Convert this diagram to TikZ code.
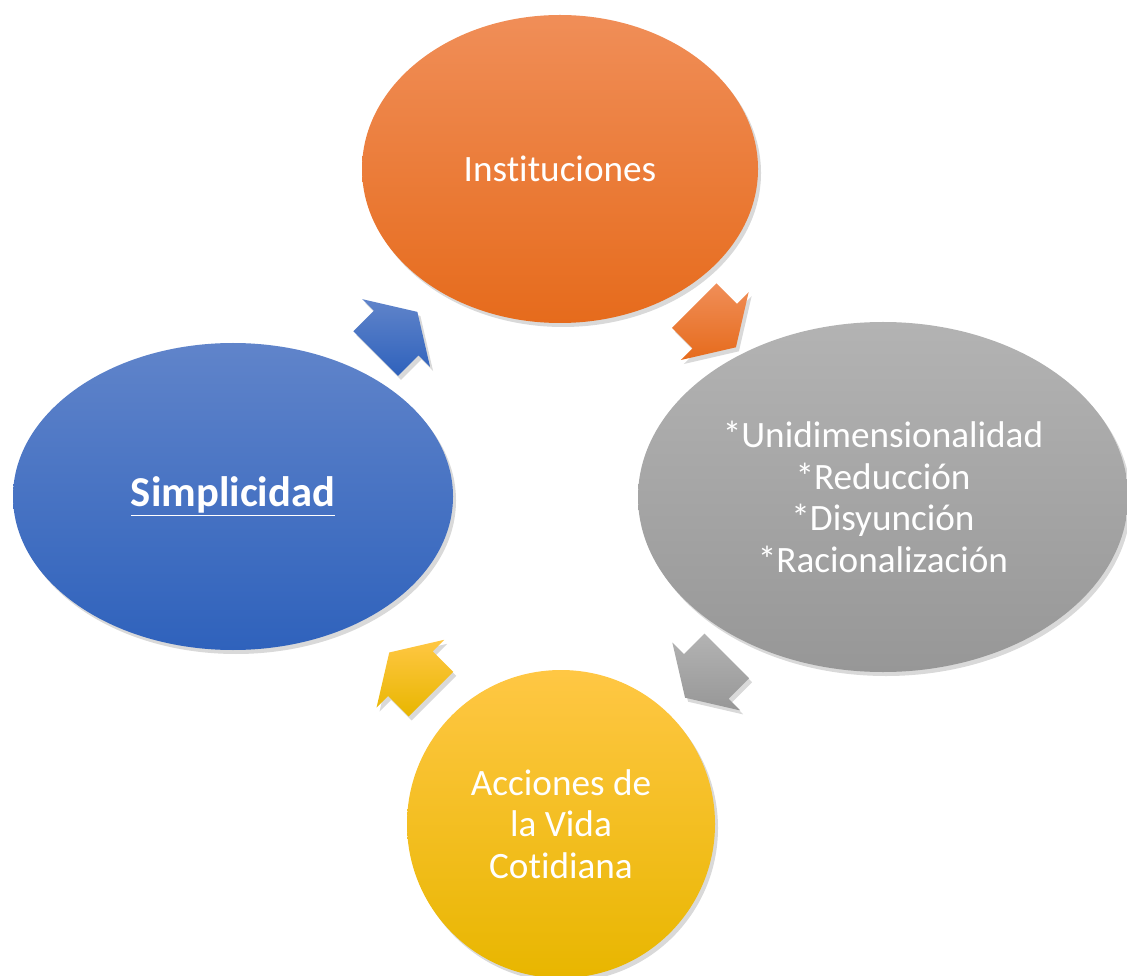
\documentclass[tikz,border=0pt]{standalone}
\usepackage{fontspec}
\setmainfont{Carlito}[Ligatures=NoCommon]
\usetikzlibrary{shapes.geometric,shadows,calc}

% Farben
\definecolor{naranjaA}{HTML}{F08E58}
\definecolor{naranjaB}{HTML}{E66B1C}
\definecolor{grisA}{HTML}{B3B3B3}
\definecolor{grisB}{HTML}{979797}
\definecolor{amarA}{HTML}{FFC744}
\definecolor{amarB}{HTML}{E8B600}
\definecolor{azulA}{HTML}{6084CA}
\definecolor{azulB}{HTML}{2F62BC}

\tikzset{
	sombra/.style={drop shadow={opacity=0.3, shadow xshift=1.5pt, shadow yshift=-2pt}},
	elipse/.style={ellipse, inner sep=0pt, text=white, align=center,
		font=\fontsize{18.6}{20.85}\selectfont, sombra},
	% Pfeil: Richtung #3, Punkte als (laengs, quer)
	pics/flecha/.style n args={3}{code={
		\path[sombra, top color=#1, bottom color=#2]
			($(#3:-29.5)+(#3+90:-31.5)$) -- ($(#3:-0.5)+(#3+90:-31.5)$)
			-- ($(#3:-0.5)+(#3+90:-48)$) -- (#3:29.5)
			-- ($(#3:-0.5)+(#3+90:48)$) -- ($(#3:-0.5)+(#3+90:31.5)$)
			-- ($(#3:-29.5)+(#3+90:31.5)$) -- cycle;
	}}
}

\begin{document}
\begin{tikzpicture}[x=0.5pt, y=0.5pt]
	\useasboundingbox (0,0) rectangle (1127,975);
	\clip (0,0) rectangle (1127,975);

	% Elipsen
	\node[elipse, minimum width=198pt, minimum height=154pt,
		top color=naranjaA, bottom color=naranjaB] (inst) at (560,806)
		{Instituciones};
	\node[elipse, minimum width=245pt, minimum height=175pt,
		top color=grisA, bottom color=grisB] (gris) at (883,478)
		{*Unidimensionalidad\\*Reducción\\*Disyunción\\*Racionalización};
	\node[elipse, minimum width=154pt, minimum height=154pt,
		top color=amarA, bottom color=amarB] (acc) at (561,151)
		{Acciones de\\la Vida\\Cotidiana};
	\node[elipse, minimum width=220pt, minimum height=153.5pt,
		top color=azulA, bottom color=azulB] (simp) at (233,478.5)
		{\fontsize{21.3}{24}\selectfont\bfseries\underline{Simplicidad}};

	% Pfeile zwischen den Elipsen
	\pic at ($(simp)!0.5!(inst)$) {flecha={azulA}{azulB}{45}};
	\pic at ($(inst)!0.48!(gris)$) {flecha={naranjaA}{naranjaB}{-45}};
	\pic at ($(gris)!0.55!(acc)$) {flecha={grisA}{grisB}{-135}};
	\pic at ($(acc)!0.46!(simp)$) {flecha={amarA}{amarB}{135}};
\end{tikzpicture}
\end{document}
